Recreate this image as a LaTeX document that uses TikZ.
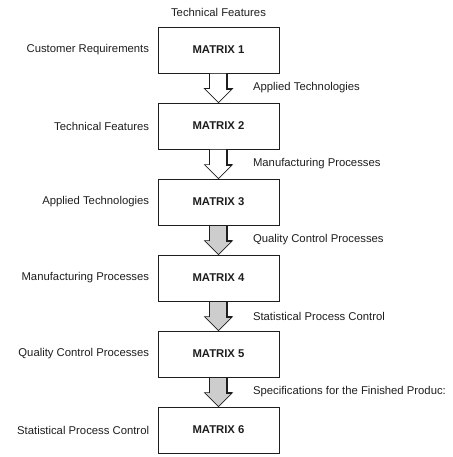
\documentclass[tikz,border=0pt]{standalone}
\usepackage{fontspec}
\setmainfont{Liberation Sans}
\usepackage{tikz}
\usetikzlibrary{calc,positioning}
\definecolor{tinta}{HTML}{1E1E1E}
\definecolor{grano}{HTML}{CDCDCD}

\begin{document}
\begin{tikzpicture}[x=1pt,y=1pt,tinta,every node/.style={font=\fontsize{11.3}{13}\selectfont,text=tinta},
    matbox/.style={draw=tinta,line width=0.8pt,minimum width=121pt,minimum height=46pt,font=\fontsize{11.3}{13}\selectfont\bfseries}]
        \useasboundingbox (0,0) rectangle (452,-457);
        \foreach \i in {1,...,6}{\node[matbox] (m\i) at (218.5,{-50-76*(\i-1)}) {MATRIX \i};}
        \node[above=6pt of m1] (top) {Technical Features};
        \foreach \i/\txt in {1/Customer Requirements,2/Technical Features,3/Applied Technologies,
            4/Manufacturing Processes,5/Quality Control Processes,6/Statistical Process Control}
            {\node[anchor=east] (l\i) at ($(m\i.west)+(-5,0)$) {\txt};}
        \foreach \i/\j/\col/\txt in {1/2/white/Applied Technologies,2/3/white/Manufacturing Processes,
            3/4/grano/Quality Control Processes,4/5/grano/Statistical Process Control,
            5/6/grano/Specifications for the Finished Produc:}{
            \draw[fill=\col,line width=0.7pt,line join=miter] ($(m\i.south)+(-9,0)$) -- ($(m\j.north)+(-9,14)$) -- ++(-5,0)
                -- (m\j.north) -- ($(m\j.north)+(14,14)$) -- ++(-5,0) -- ($(m\i.south)+(9,0)$) -- cycle;
            \draw[line width=2pt] ($(m\i.south)+(8.5,0)$) -- ($(m\j.north)+(8.5,14)$) -- ++(5,0);
            \node[anchor=west] (r\i) at ($(m\i.south)!0.5!(m\j.north)+(31,0)$) {\txt};
        }
\end{tikzpicture}
\end{document}
